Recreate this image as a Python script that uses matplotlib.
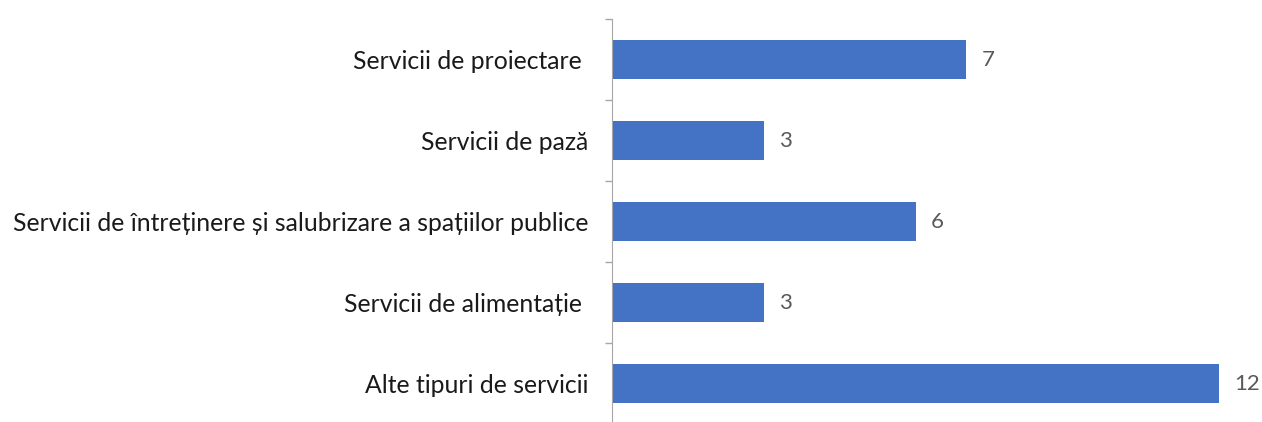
import numpy as np
import matplotlib.pyplot as plt

plt.rcParams['font.family'] = ['Lato', 'DejaVu Sans']

categories = ['Servicii de proiectare ', 'Servicii de pază',
              'Servicii de întreținere și salubrizare a spațiilor publice',
              'Servicii de alimentație ', 'Alte tipuri de servicii']
values = [7, 3, 6, 3, 12]

fig = plt.figure(figsize=(12.62, 4.22), dpi=100)
ax = fig.add_axes([612/1262, -2.4/422, 650/1262, 405/422])

y = np.arange(len(categories))[::-1]
ax.barh(y, values, height=0.48, color='#4472C4')
for yi, v in zip(y, values):
    ax.text(v + 0.3, yi, str(v), va='center', ha='left', fontsize=16, color='#595959')

ax.set_xlim(0, 12.85)
ax.set_ylim(-0.5, 4.5)
ax.set_yticks(y)
ax.set_yticklabels(categories, fontsize=17.8, color='#1a1a1a')
ax.tick_params(axis='y', which='major', length=0, pad=17)
ax.set_yticks(np.arange(-0.5, 5, 1), minor=True)
ax.tick_params(axis='y', which='minor', length=5, color='#a6a6a6', width=1)
ax.set_xticks([])
for s in ['top', 'right', 'bottom']:
    ax.spines[s].set_visible(False)
ax.spines['left'].set_color('#a6a6a6')

fig.savefig('out.png')
